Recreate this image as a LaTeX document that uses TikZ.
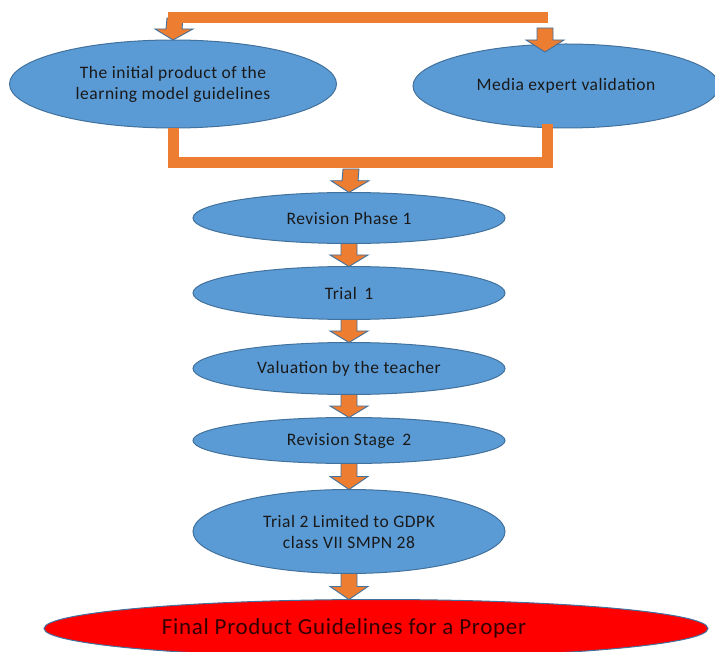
\documentclass[tikz,border=0pt]{standalone}
\usepackage{fontspec}
\setmainfont{Carlito}[LetterSpace=3]
\usetikzlibrary{positioning,calc,shapes.geometric}
\definecolor{ovalblue}{HTML}{5B9BD5}
\definecolor{ovalline}{HTML}{41719C}
\definecolor{feed}{HTML}{ED7D31}
\tikzset{
  oval/.style   = {ellipse, draw=ovalline, line width=1pt, fill=ovalblue, inner sep=0pt, outer sep=0pt,
                   minimum width=312pt, align=center, text=black!90, font=\fontsize{17.5}{21}\selectfont},
  finaloval/.style = {oval, fill=red, minimum width=664pt, minimum height=58pt,
                   text=black!80!red, font=\fontsize{23}{27}\selectfont},
  bar/.style    = {draw=feed, line width=11pt},
  blk/.style    = {fill=feed, draw=ovalline, line width=0.9pt, line join=miter},
}
% block arrow from #1 (top) to #2 (tip)
\newcommand\blockarrow[2]{%
  \draw[blk] ($(#1)+(-8,0)$) -- ($(#1)+(8,0)$) -- ($($(#1)!0.5!(#2)$)+(8,0)$)
    -- ($($(#1)!0.5!(#2)$)+(19,0)$) -- (#2) -- ($($(#1)!0.5!(#2)$)+(-19,0)$)
    -- ($($(#1)!0.5!(#2)$)+(-8,0)$) -- cycle;}

\begin{document}
\begin{tikzpicture}[x=1pt, y=-1pt, node distance=24pt]
    \useasboundingbox (0,0) rectangle (715,652);

    % Top row
    \node[oval, minimum width=327pt, minimum height=88pt] (init) at (173,84)
      {The initial product of the\\learning model guidelines};
    \node[oval, minimum width=306pt, minimum height=84pt] (media) at (566,86)
      {Media expert validation};

    % Column
    \node[oval, minimum height=51pt] (rev1) at (349,218) {Revision Phase 1};
    \node[oval, below=23pt of rev1, minimum height=53pt] (trial1) {Trial\, 1};
    \node[oval, below=23pt of trial1, minimum height=52pt] (valid) {Valuation by the teacher};
    \node[oval, below=23pt of valid, minimum height=46pt] (rev2) {Revision Stage\, 2};
    \node[oval, below=26pt of rev2, minimum height=84pt] (trial2)
      {Trial 2 Limited to GDPK\\class VII SMPN 28};
    \node[finaloval, below=26pt of trial2, xshift=27pt] (final)
      {\hspace*{-64pt}Final Product Guidelines for a Proper};

    % Feed lines
    \coordinate (tl) at (175,18);
    \coordinate (tr) at (545,28);
    \coordinate (jn) at (351,169);
    \blockarrow{tl}{init.north}
    \blockarrow{tr}{$(tr |- media.north)+(0,8)$}
    \blockarrow{jn}{rev1.north}
    \draw[bar] (168,18) -- (548,18);
    \draw[bar, line join=miter] (init.south) |- (jn |- 0,163) -| ($(tr |- media.south)+(2,-4)$);

    % Arrows down the column
    \blockarrow{rev1.south}{trial1.north}
    \blockarrow{trial1.south}{valid.north}
    \blockarrow{valid.south}{rev2.north}
    \blockarrow{rev2.south}{trial2.north}
    \blockarrow{trial2.south}{final.north -| trial2.south}
\end{tikzpicture}
\end{document}
